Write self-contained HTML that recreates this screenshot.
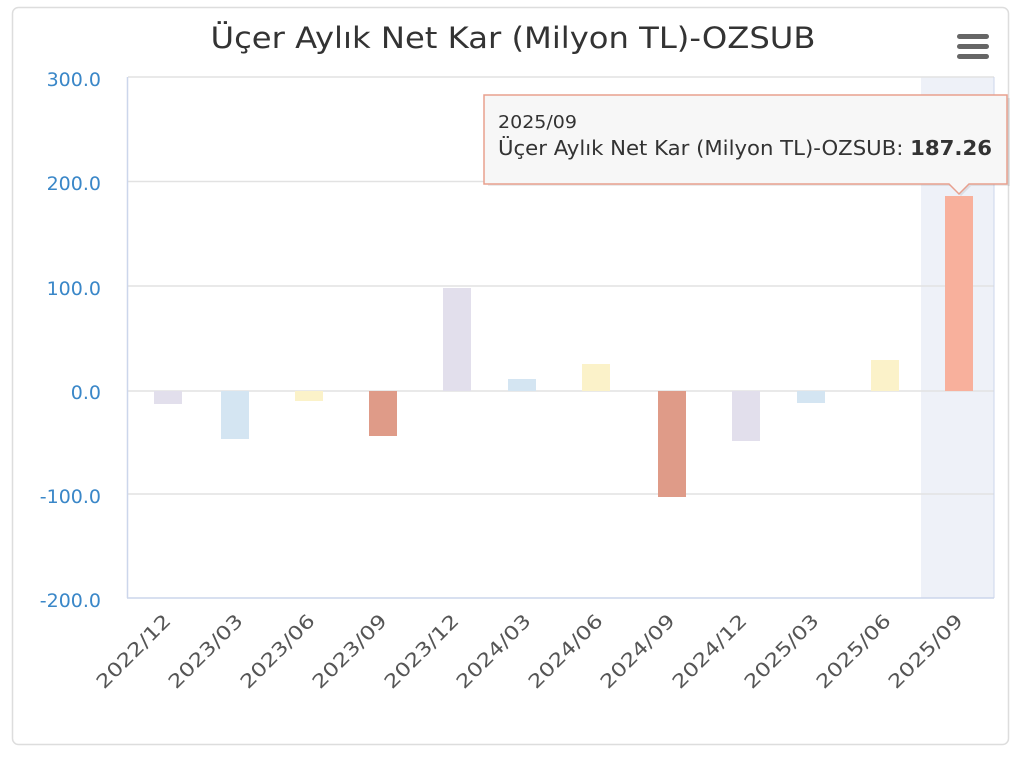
<!DOCTYPE html>
<html><head><meta charset="utf-8"><style>
html,body{margin:0;padding:0;background:#fff;}
svg{display:block;font-family:"DejaVu Sans","Liberation Sans",sans-serif;}
</style></head><body>
<svg width="1024" height="770" viewBox="0 0 1024 770">
<rect x="12.5" y="7.5" width="996" height="737" rx="6" fill="#fff" stroke="#ddd" stroke-width="1.5"/>
<text x="513" y="48" text-anchor="middle" font-size="29" fill="#333" textLength="605" lengthAdjust="spacingAndGlyphs">Üçer Aylık Net Kar (Milyon TL)-OZSUB</text>
<g fill="#666"><rect x="957" y="34" width="32" height="5" rx="2.5"/><rect x="957" y="44" width="32" height="5" rx="2.5"/><rect x="957" y="54" width="32" height="5" rx="2.5"/></g>
<rect x="921" y="77" width="73" height="521" fill="#eef1f8"/>
<g stroke="#e2e2e2" stroke-width="1.5">
<line x1="128" y1="77" x2="994" y2="77"/><line x1="128" y1="181.5" x2="994" y2="181.5"/><line x1="128" y1="286" x2="994" y2="286"/><line x1="128" y1="391" x2="994" y2="391"/><line x1="128" y1="494" x2="994" y2="494"/>
</g>
<line x1="127.5" y1="77" x2="127.5" y2="598" stroke="#ccd6eb" stroke-width="1.5"/>
<line x1="994" y1="77" x2="994" y2="598" stroke="#ccd6eb" stroke-width="1"/>
<line x1="127" y1="598" x2="994" y2="598" stroke="#ccd6eb" stroke-width="1.5"/>
<g font-size="19" fill="#3a87c8" text-anchor="end">
<text x="101" y="86">300.0</text><text x="101" y="190">200.0</text><text x="101" y="295">100.0</text><text x="101" y="399">0.0</text><text x="101" y="503">-100.0</text><text x="101" y="607">-200.0</text>
</g>
<rect x="154" y="391" width="28" height="13" fill="#e2dfec"/>
<rect x="221" y="391" width="28" height="48" fill="#d4e5f2"/>
<rect x="295" y="391" width="28" height="10" fill="#fbf2c9"/>
<rect x="369" y="391" width="28" height="45" fill="#df9b88"/>
<rect x="443" y="288" width="28" height="103" fill="#e2dfec"/>
<rect x="508" y="379" width="28" height="12" fill="#d4e5f2"/>
<rect x="582" y="364" width="28" height="27" fill="#fbf2c9"/>
<rect x="658" y="391" width="28" height="106" fill="#df9b88"/>
<rect x="732" y="391" width="28" height="50" fill="#e2dfec"/>
<rect x="797" y="391" width="28" height="12" fill="#d4e5f2"/>
<rect x="871" y="360" width="28" height="31" fill="#fbf2c9"/>
<rect x="945" y="196" width="28" height="195" fill="#f8b09c"/>
<g font-size="19" fill="#555" text-anchor="end">
<text transform="translate(172,622) rotate(-45)" textLength="96" lengthAdjust="spacingAndGlyphs">2022/12</text>
<text transform="translate(244,622) rotate(-45)" textLength="96" lengthAdjust="spacingAndGlyphs">2023/03</text>
<text transform="translate(316,622) rotate(-45)" textLength="96" lengthAdjust="spacingAndGlyphs">2023/06</text>
<text transform="translate(388,622) rotate(-45)" textLength="96" lengthAdjust="spacingAndGlyphs">2023/09</text>
<text transform="translate(460,622) rotate(-45)" textLength="96" lengthAdjust="spacingAndGlyphs">2023/12</text>
<text transform="translate(532,622) rotate(-45)" textLength="96" lengthAdjust="spacingAndGlyphs">2024/03</text>
<text transform="translate(604,622) rotate(-45)" textLength="96" lengthAdjust="spacingAndGlyphs">2024/06</text>
<text transform="translate(676,622) rotate(-45)" textLength="96" lengthAdjust="spacingAndGlyphs">2024/09</text>
<text transform="translate(748,622) rotate(-45)" textLength="96" lengthAdjust="spacingAndGlyphs">2024/12</text>
<text transform="translate(820,622) rotate(-45)" textLength="96" lengthAdjust="spacingAndGlyphs">2025/03</text>
<text transform="translate(892,622) rotate(-45)" textLength="96" lengthAdjust="spacingAndGlyphs">2025/06</text>
<text transform="translate(964,622) rotate(-45)" textLength="96" lengthAdjust="spacingAndGlyphs">2025/09</text>
</g>
<path d="M486,96 H1008 V184 H969 L959,194 L949,184 H486 Z" fill="#000" opacity="0.08" transform="translate(2,2)"/>
<path d="M484,95 H1007 V184 H969 L959,194 L949,184 H484 Z" fill="#f7f7f7" stroke="#e8a08e" stroke-width="1.5"/>
<text x="498" y="128" font-size="18" fill="#333" textLength="79" lengthAdjust="spacingAndGlyphs">2025/09</text>
<text x="498" y="155" font-size="20" fill="#333" textLength="494" lengthAdjust="spacingAndGlyphs">Üçer Aylık Net Kar (Milyon TL)-OZSUB: <tspan font-weight="bold">187.26</tspan></text>
</svg>
</body></html>
